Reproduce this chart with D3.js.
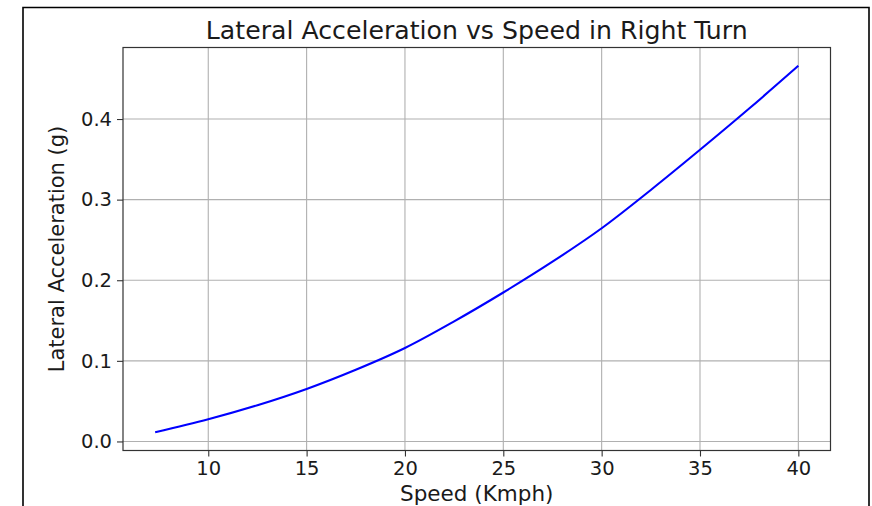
<!DOCTYPE html>
<html>
<head>
<meta charset="utf-8">
<script src="https://cdn.jsdelivr.net/npm/d3@7"></script>
<style>
  html, body { margin: 0; padding: 0; background: #fff; }
  svg { display: block; font-family: "DejaVu Sans", sans-serif; }
</style>
</head>
<body>
<svg id="chart" width="872" height="506"></svg>
<script>
// Speed (km/h) and the resulting lateral acceleration (g) in the right turn
const speeds = [7.3, 10, 12.5, 15, 17.5, 20, 22.5, 25, 27.5, 30, 32.5, 35, 37.5, 40];
const lateralG = [0.0115, 0.0276, 0.045, 0.0652, 0.089, 0.116, 0.149, 0.1848, 0.223, 0.2645, 0.312, 0.3618, 0.413, 0.466];
const xTicks = [10, 15, 20, 25, 30, 35, 40];
const yTicks = [0.0, 0.1, 0.2, 0.3, 0.4];

const svg = d3.select("#chart");
const plot = { left: 123, top: 47.5, right: 830.5, bottom: 450.5 };

// matplotlib-style 5% padding around the data extent
const xExt = d3.extent(speeds), yExt = d3.extent(lateralG);
const xPad = (xExt[1] - xExt[0]) * 0.05, yPad = (yExt[1] - yExt[0]) * 0.05;
const x = d3.scaleLinear().domain([xExt[0] - xPad, xExt[1] + xPad]).range([plot.left, plot.right]);
const y = d3.scaleLinear().domain([yExt[0] - yPad, yExt[1] + yPad]).range([plot.bottom, plot.top]);

// outer frame (open at the bottom)
svg.append("path")
  .attr("d", "M23,506 L23,7.5 L869,7.5 L869,506")
  .attr("fill", "none").attr("stroke", "#000").attr("stroke-width", 1.6);

// grid
const grid = svg.append("g").attr("stroke", "#b0b0b0").attr("stroke-width", 1.1);
grid.selectAll("line.gx").data(xTicks).join("line")
  .attr("x1", d => x(d)).attr("x2", d => x(d))
  .attr("y1", plot.top).attr("y2", plot.bottom);
grid.selectAll("line.gy").data(yTicks).join("line")
  .attr("y1", d => y(d)).attr("y2", d => y(d))
  .attr("x1", plot.left).attr("x2", plot.right);

// data line
const line = d3.line().x((d, i) => x(speeds[i])).y(d => y(d)).curve(d3.curveCatmullRom.alpha(0.5));
svg.append("path").datum(lateralG)
  .attr("d", line)
  .attr("fill", "none").attr("stroke", "#0000ff").attr("stroke-width", 2.1);

// axes
const xAxis = d3.axisBottom(x).tickValues(xTicks).tickSize(6).tickPadding(5).tickFormat(d3.format("d"));
const yAxis = d3.axisLeft(y).tickValues(yTicks).tickSize(6).tickPadding(5).tickFormat(d3.format(".1f"));

const gx = svg.append("g").attr("transform", `translate(0,${plot.bottom})`).call(xAxis);
const gy = svg.append("g").attr("transform", `translate(${plot.left},0)`).call(yAxis);
[gx, gy].forEach(g => {
  g.select(".domain").remove();
  g.selectAll(".tick line").attr("stroke", "#333").attr("stroke-width", 1.1);
  g.selectAll(".tick text").attr("fill", "#1a1a1a").attr("font-size", 19.5)
    .attr("font-family", "DejaVu Sans, sans-serif");
});

// spines
svg.append("rect")
  .attr("x", plot.left).attr("y", plot.top)
  .attr("width", plot.right - plot.left).attr("height", plot.bottom - plot.top)
  .attr("fill", "none").attr("stroke", "#333").attr("stroke-width", 1.2);

// labels
svg.append("text")
  .attr("x", (plot.left + plot.right) / 2).attr("y", 39)
  .attr("text-anchor", "middle").attr("font-size", 25.2).attr("fill", "#1a1a1a")
  .text("Lateral Acceleration vs Speed in Right Turn");

svg.append("text")
  .attr("x", (plot.left + plot.right) / 2).attr("y", 501)
  .attr("text-anchor", "middle").attr("font-size", 21.5).attr("fill", "#1a1a1a")
  .text("Speed (Kmph)");

svg.append("text")
  .attr("transform", `translate(64,${(plot.top + plot.bottom) / 2}) rotate(-90)`)
  .attr("text-anchor", "middle").attr("font-size", 21).attr("fill", "#1a1a1a")
  .text("Lateral Acceleration (g)");
</script>
</body>
</html>
